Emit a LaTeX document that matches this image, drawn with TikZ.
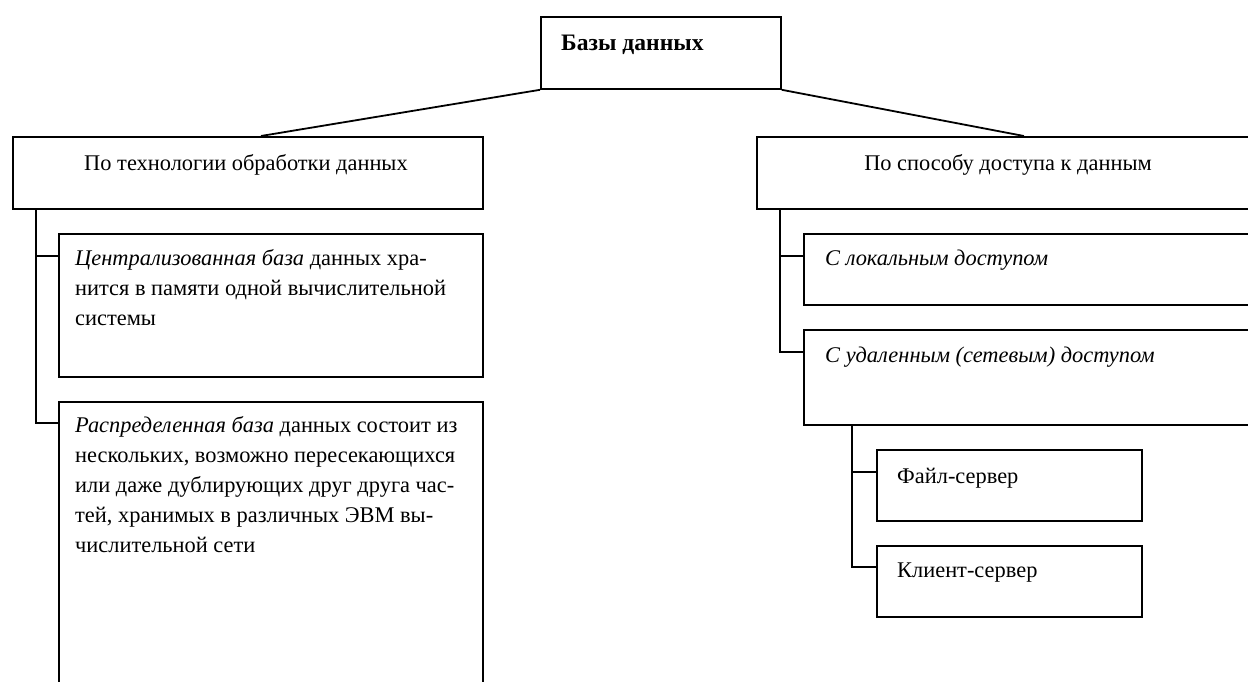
\documentclass[tikz,border=0pt]{standalone}
\usepackage{fontspec}
\setmainfont{Liberation Serif}
\begin{document}
\begin{tikzpicture}[x=1pt,y=-1pt,
  box/.style={draw, line width=1.8pt, rectangle, inner sep=0pt, anchor=north west},
  txt/.style={inner sep=0pt, anchor=base west, font=\fontsize{22.4}{30}\selectfont},
  ctxt/.style={inner sep=0pt, anchor=base, font=\fontsize{22.4}{30}\selectfont},
  link/.style={line width=1.8pt}]
\useasboundingbox (0,0) rectangle (1248,681);
\clip (0,0) rectangle (1248,681);
% boxes
\node[box, minimum width=240pt, minimum height=72pt] (top) at (540,16) {};
\node[box, minimum width=470pt, minimum height=72pt] (l1) at (12,136) {};
\node[box, minimum width=424pt, minimum height=143pt] (l2) at (58,233) {};
\node[box, minimum width=424pt, minimum height=320pt] (l3) at (58,401) {};
\node[box, minimum width=510pt, minimum height=72pt] (r1) at (756,136) {};
\node[box, minimum width=460pt, minimum height=71pt] (r2) at (803,233) {};
\node[box, minimum width=460pt, minimum height=95pt] (r3) at (803,329) {};
\node[box, minimum width=265pt, minimum height=71pt] (f) at (876,449) {};
\node[box, minimum width=265pt, minimum height=71pt] (k) at (876,545) {};
% texts
\node[txt, font=\fontsize{23.6}{30}\selectfont\bfseries] (ttop) at (561,50) {Базы данных};
\node[ctxt] (tl1) at (246,170) {По технологии обработки данных};
\node[ctxt] (tr1) at (1008,170) {По способу доступа к данным};
\node[txt] (tl2) at (75,265) {\parbox[t]{420pt}{\raggedright\fontsize{22.4}{30}\selectfont
  \textit{Централизованная база} данных хра-\\
  нится в памяти одной вычислительной\\
  системы}};
\node[txt] (tl3) at (75,432) {\parbox[t]{420pt}{\raggedright\fontsize{22.4}{30}\selectfont
  \textit{Распределенная база} данных состоит из\\
  нескольких, возможно пересекающихся\\
  или даже дублирующих друг друга час-\\
  тей, хранимых в различных ЭВМ вы-\\
  числительной сети}};
\node[txt] (tr2) at (825,265) {\textit{С локальным доступом}};
\node[txt] (tr3) at (825,362) {\textit{С удаленным (сетевым) доступом}};
\node[txt] (tf) at (897,483) {Файл-сервер};
\node[txt] (tk) at (897,577) {Клиент-сервер};
% connectors
\draw[link] (top.south west) -- ([xshift=13pt]l1.north);
\draw[link] (top.south east) -- ([xshift=12pt]r1.north);
\draw[link] ([xshift=24pt]l1.south west) |- ([yshift=-23pt]l2.north west);
\draw[link] ([xshift=24pt]l1.south west) |- ([yshift=-22pt]l3.north west);
\draw[link] ([xshift=24pt]r1.south west) |- ([yshift=-23pt]r2.north west);
\draw[link] ([xshift=24pt]r1.south west) |- ([yshift=-23pt]r3.north west);
\draw[link] ([xshift=49pt]r3.south west) |- ([yshift=-23pt]f.north west);
\draw[link] ([xshift=49pt]r3.south west) |- ([yshift=-22pt]k.north west);
\end{tikzpicture}
\end{document}
